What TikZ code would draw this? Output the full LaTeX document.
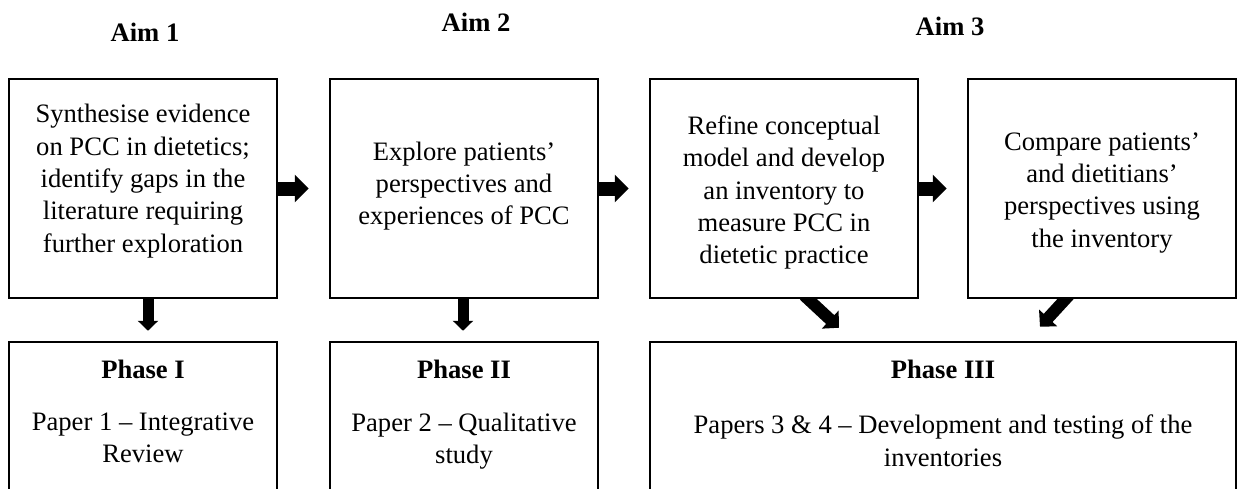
\documentclass[tikz,border=0pt]{standalone}
\usepackage{fontspec}
\setmainfont{Liberation Serif}
\usetikzlibrary{arrows.meta}
\pgfdeclarelayer{background}
\pgfsetlayers{background,main}
\begin{document}
\begin{tikzpicture}[x=1pt,y=-1pt,
  box/.style={draw=black, fill=white, line width=2.5pt, minimum width=268pt, minimum height=219pt, inner sep=0pt},
  pbox/.style={draw=black, fill=white, line width=2.5pt, minimum height=158pt, inner sep=0pt},
  txt/.style={align=center, font=\fontsize{26.6}{32.3}\selectfont, inner sep=0pt},
  lbl/.style={font=\fontsize{26.6}{32}\selectfont\bfseries, inner sep=0pt, anchor=base},
  harrow/.style={line width=14pt, -{Triangle[width=27pt,length=14pt]}, shorten >=20pt},
  varrow/.style={line width=11pt, -{Triangle[width=20pt,length=10pt]}, shorten >=10pt},
  darrow/.style={line width=12pt, -{Triangle[width=24pt,length=12pt]}}
]
\clip (0,0) rectangle (1240,488);

% aim labels
\node[lbl] (aim1) at (145,41) {Aim 1};
\node[lbl] (aim2) at (476,31) {Aim 2};
\node[lbl] (aim3) at (950,35) {Aim 3};

% top boxes
\node[box] (b1) at (143,188.5) {};
\node[box] (b2) at (464,188.5) {};
\node[box] (b3) at (784,188.5) {};
\node[box] (b4) at (1102,188.5) {};

\node[txt] (t1) at (143,181) {Synthesise evidence\\on PCC in dietetics;\\identify gaps in the\\literature requiring\\further exploration};
\node[txt] (t2) at (464,186) {Explore patients’\\perspectives and\\experiences of PCC};
\node[txt] (t3) at (784,192.7) {Refine conceptual\\model and develop\\an inventory to\\measure PCC in\\dietetic practice};
\node[txt] (t4) at (1102,192.7) {Compare patients’\\and dietitians’\\perspectives using\\the inventory};

% bottom boxes
\node[pbox, minimum width=268pt] (p1) at (143,421) {};
\node[pbox, minimum width=268pt] (p2) at (464,421) {};
\node[pbox, minimum width=586pt] (p3) at (943,421) {};

\node[lbl] (h1) at (143,378) {Phase I};
\node[lbl] (h2) at (464,378) {Phase II};
\node[lbl] (h3) at (943,378) {Phase III};

\node[txt] (q1) at (143,437.8) {Paper 1 – Integrative\\Review};
\node[txt] (q2) at (464,440.8) {Paper 2 – Qualitative\\study};
\node[txt] (q3) at (943,440.8) {Papers 3 \& 4 – Development and testing of the\\inventories};

% arrows
\begin{pgfonlayer}{background}
\fill[white] (0,0) rectangle (1240,488);
\draw[harrow] (b1.east) -- (b2.west);
\draw[harrow] (b2.east) -- (b3.west);
\draw[harrow] (b3.east) -- (b4.west);
\draw[varrow] ([xshift=5pt]b1.south) -- ([xshift=5pt]p1.north);
\draw[varrow] ([xshift=-1pt]b2.south) -- ([xshift=-1pt]p2.north);
\draw[darrow] ([xshift=20pt,yshift=4pt]b3.south) -- ([xshift=-104pt,yshift=13pt]p3.north);
\draw[darrow] ([xshift=-33pt,yshift=4pt]b4.south) -- ([xshift=97pt,yshift=14pt]p3.north);
\end{pgfonlayer}
\end{tikzpicture}
\end{document}
